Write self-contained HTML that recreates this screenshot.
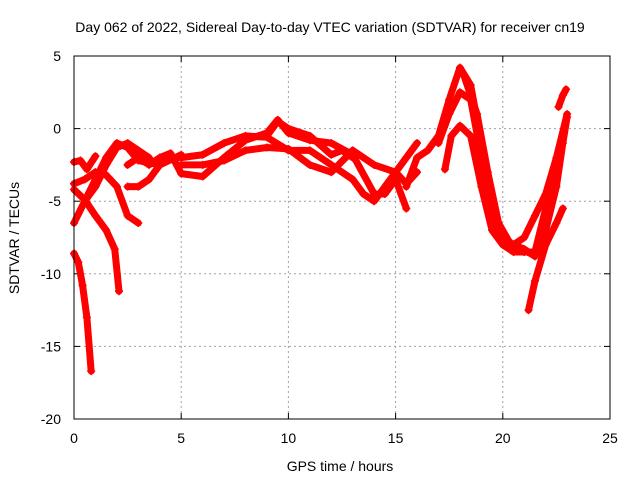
<!DOCTYPE html>
<html><head><meta charset="utf-8"><style>
body{margin:0;background:#fff}
svg text{font-family:"Liberation Sans",sans-serif;font-size:14px;fill:#000}
</style></head><body>
<svg id="chart" width="640" height="480" xmlns="http://www.w3.org/2000/svg">
<rect width="640" height="480" fill="#fff"/>
<text x="330" y="32" text-anchor="middle">Day 062 of 2022, Sidereal Day-to-day VTEC variation (SDTVAR) for receiver cn19</text>
<text x="340" y="471" text-anchor="middle">GPS time / hours</text>
<text transform="translate(19,238) rotate(-90)" text-anchor="middle">SDTVAR / TECUs</text>
<g id="grid"></g>
<g id="ticks"></g>
<g id="series"></g>
<rect x="74" y="56" width="536" height="363" fill="none" stroke="#000" stroke-width="1"/>
</svg>
<script>
const xTicks=[0,5,10,15,20,25];
const yTicks=[5,0,-5,-10,-15,-20];
const t1=[[0,-8.6],[0.2,-9.2],[0.4,-10.8],[0.6,-13],[0.8,-16.7]];
const t2=[[0,-2.3],[0.3,-2.2],[0.6,-2.8],[1,-1.9]];
const t3=[[0,-4.2],[0.5,-4.9],[1,-6],[1.5,-7],[1.9,-8.3],[2.1,-11.2]];
const t4=[[0,-6.5],[0.5,-5],[1,-3.5],[1.5,-2],[2,-1],[2.5,-1.3],[3,-2.2],[4,-2.5],[5,-1.8]];
const t5=[[0,-3.8],[0.5,-3.5],[1,-3],[1.5,-3.2],[2,-4],[2.5,-6],[3,-6.5]];
const t6=[[0.5,-5],[1,-4],[1.5,-2.5],[2,-1.3],[2.5,-1],[3,-1.5],[3.5,-2]];
const t7=[[2.5,-2.5],[3,-2],[3.5,-2.5],[4,-2],[4.5,-1.7],[5,-3.1],[6,-3.3],[7,-2],[8,-0.8],[9,-0.3],[9.5,0.6],[10,-0.3],[11,-0.8],[12,-1],[13,-1.8],[14,-4.5],[14.5,-4.5],[15,-3.5],[15.5,-5.5]];
const t8=[[2.5,-4],[3,-4],[3.5,-3.5],[4,-2.5],[4.5,-2],[5,-2],[6,-1.8],[7,-1],[8,-0.5],[9,-0.6],[10,-1.5],[11,-1.5],[12,-2.5],[13,-3.5],[13.5,-4.5],[14,-5],[15,-3],[15.5,-2],[16,-1]];
const t9=[[5,-2.5],[6,-2.5],[7,-2.2],[8,-1.5],[9,-1.3],[10,-1.4],[11,-2.5],[12,-3],[13,-1.5],[14,-2.5],[15,-3],[15.5,-3.8],[16,-3]];
const t10=[[9,-0.5],[9.5,0.5],[10,0],[11,-0.5],[12,-1.8],[12.5,-1.5],[13,-2]];
const t11=[[15.5,-4],[16,-2],[16.5,-1.5],[17,-0.5],[17.5,2],[18,4.2],[18.5,3],[19,-1],[19.5,-5],[20,-7.5],[20.5,-8],[21,-7.5],[21.5,-6],[22,-4.5],[22.5,-2],[23,1]];
const t12=[[17,-1],[17.5,1],[18,2.5],[18.5,2],[19,-2],[19.5,-6],[20,-7.5],[20.5,-8],[21,-8.3],[21.5,-8.8],[22,-7],[22.5,-4],[22.8,-1],[23,0.8]];
const t13=[[17.3,-2.8],[17.6,-0.5],[18,0.2],[18.5,-0.5],[19,-4],[19.5,-7],[20,-8],[20.5,-8.5],[21,-8.5],[21.5,-8.5],[22,-5.5],[22.5,-3]];
const t14=[[21.2,-12.5],[21.5,-10.5],[22,-8],[22.5,-6.5],[22.8,-5.5]];
const t15=[[22.6,1.5],[22.8,2.3],[22.95,2.7]];
const t16=[[18.2,3.6],[18.8,1],[19.3,-3],[19.8,-6.5],[20.3,-7.8],[20.8,-8.3],[21.3,-8.6]];
const seriesList=[t1,t2,t3,t4,t5,t6,t7,t8,t9,t10,t11,t12,t13,t14,t15,t16];

const X0=74,X1=610,Y0=419,Y1=56,xMin=0,xMax=25,yMin=-20,yMax=5;
const xs=v=>X0+(v-xMin)/(xMax-xMin)*(X1-X0);
const ys=v=>Y0-(v-yMin)/(yMax-yMin)*(Y0-Y1);
const NS='http://www.w3.org/2000/svg';
const grid=document.getElementById('grid'),ticks=document.getElementById('ticks'),ser=document.getElementById('series');
function mk(tag,attrs,parent){const e=document.createElementNS(NS,tag);for(const k in attrs)e.setAttribute(k,attrs[k]);parent.appendChild(e);return e;}
xTicks.forEach(v=>{
  const x=xs(v);
  if(v>xMin&&v<xMax){const g=mk('line',{x1:x,x2:x,y1:Y1,y2:Y0,stroke:'#a0a0a0','stroke-dasharray':'2,3'},grid);
  
  }
  const t=mk('line',{x1:x,x2:x,y1:Y0,y2:Y0-6,stroke:'#000'},ticks);
  
  
  const t2b=mk('line',{x1:x,x2:x,y1:Y1,y2:Y1+6,stroke:'#000'},ticks);
  
  
  const l=mk('text',{x:x,y:443,'text-anchor':'middle'},ticks);l.textContent=v;
  
  
});
yTicks.forEach(v=>{
  const y=ys(v);
  if(v>yMin&&v<yMax){const g=mk('line',{x1:X0,x2:X1,y1:y,y2:y,stroke:'#a0a0a0','stroke-dasharray':'2,3'},grid);
  
  }
  const t=mk('line',{x1:X0,x2:X0+6,y1:y,y2:y,stroke:'#000'},ticks);
  
  
  const t2b=mk('line',{x1:X1,x2:X1-6,y1:y,y2:y,stroke:'#000'},ticks);
  
  
  const l=mk('text',{x:61,y:y+5,'text-anchor':'end'},ticks);l.textContent=v;
  
  
});
seriesList.forEach((s,i)=>{
  const pts=s.map(p=>xs(p[0])+','+ys(p[1])).join(' ');
  const pl=mk('polyline',{points:pts,fill:'none',stroke:'#ff0000','stroke-width':7,'stroke-linejoin':'round','stroke-linecap':'round'},ser);
  
  
  s.forEach(p=>{
    const x=xs(p[0]),y=ys(p[1]);
    const m=mk('path',{d:`M${x-4},${y}H${x+4}M${x},${y-4}V${y+4}`,stroke:'#ff0000','stroke-width':1.5},ser);
    
    
  });
});
</script>
</body></html>
